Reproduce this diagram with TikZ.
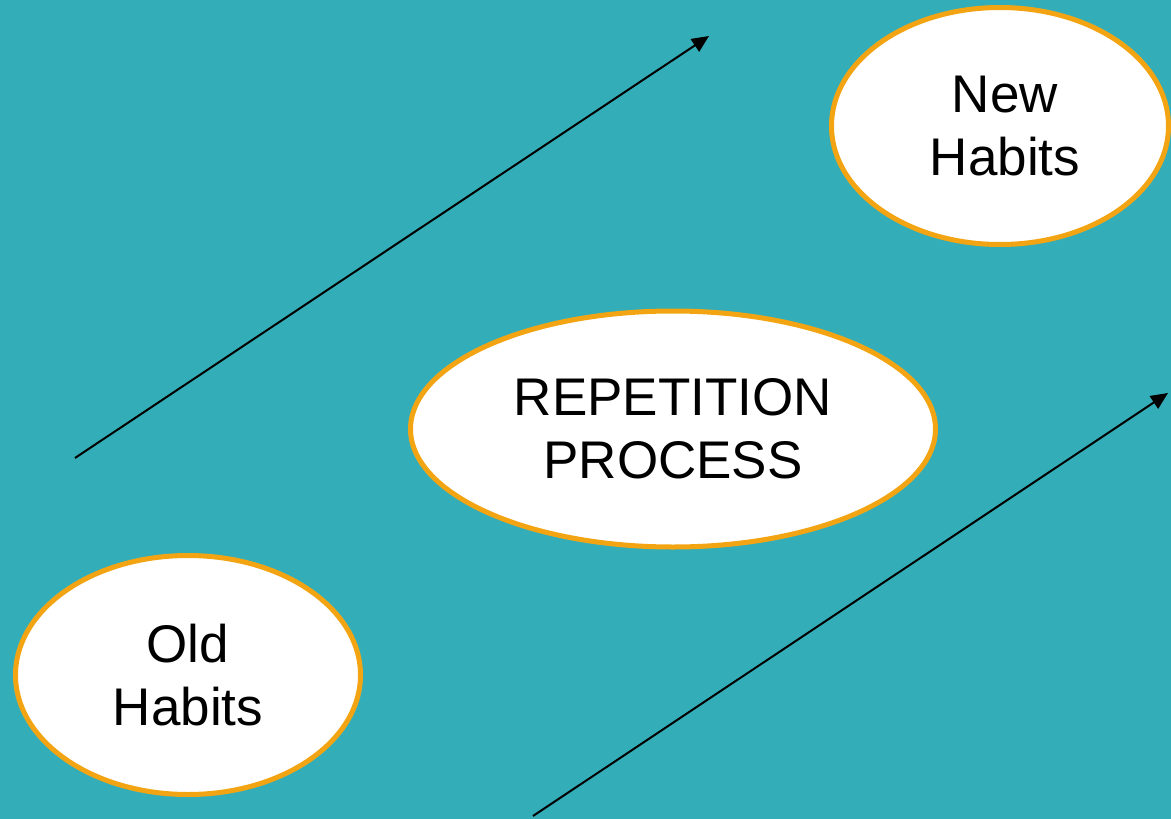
\documentclass[tikz,border=0pt]{standalone}
\usepackage{fontspec}
\setmainfont{Liberation Sans}
\usetikzlibrary{shapes.geometric,arrows.meta}
\definecolor{bgteal}{HTML}{33AEB8}
\definecolor{ringorange}{HTML}{F2A413}
\begin{document}
\begin{tikzpicture}[x=1pt,y=-1pt,
  habit/.style={ellipse,draw=ringorange,line width=5pt,fill=white,inner sep=0pt,
    align=center,font=\fontsize{53}{63}\selectfont},
  flow/.style={draw=black,line width=2pt,-{Triangle[length=17pt,width=15pt]}}]
\fill[bgteal] (0,0) rectangle (1171,819);
\useasboundingbox (0,0) rectangle (1171,819);
\node[habit,minimum width=345pt,minimum height=239pt] (old) at (188,675) {Old\\Habits};
\node[habit,minimum width=337pt,minimum height=237pt] (new) at (1000,126) {};
\node[font=\fontsize{53}{63}\selectfont,align=center,inner sep=0pt] (newtext) at (1005,126) {New\\Habits};
\node[habit,minimum width=525pt,minimum height=236pt] (rep) at (673,429) {REPETITION\\PROCESS};
\coordinate (a1s) at (75,458);
\coordinate (a1e) at (709,36);
\coordinate (a2s) at (533,816);
\coordinate (a2e) at (1168,393);
\draw[flow] (a1s) -- (a1e);
\draw[flow] (a2s) -- (a2e);
\end{tikzpicture}
\end{document}
